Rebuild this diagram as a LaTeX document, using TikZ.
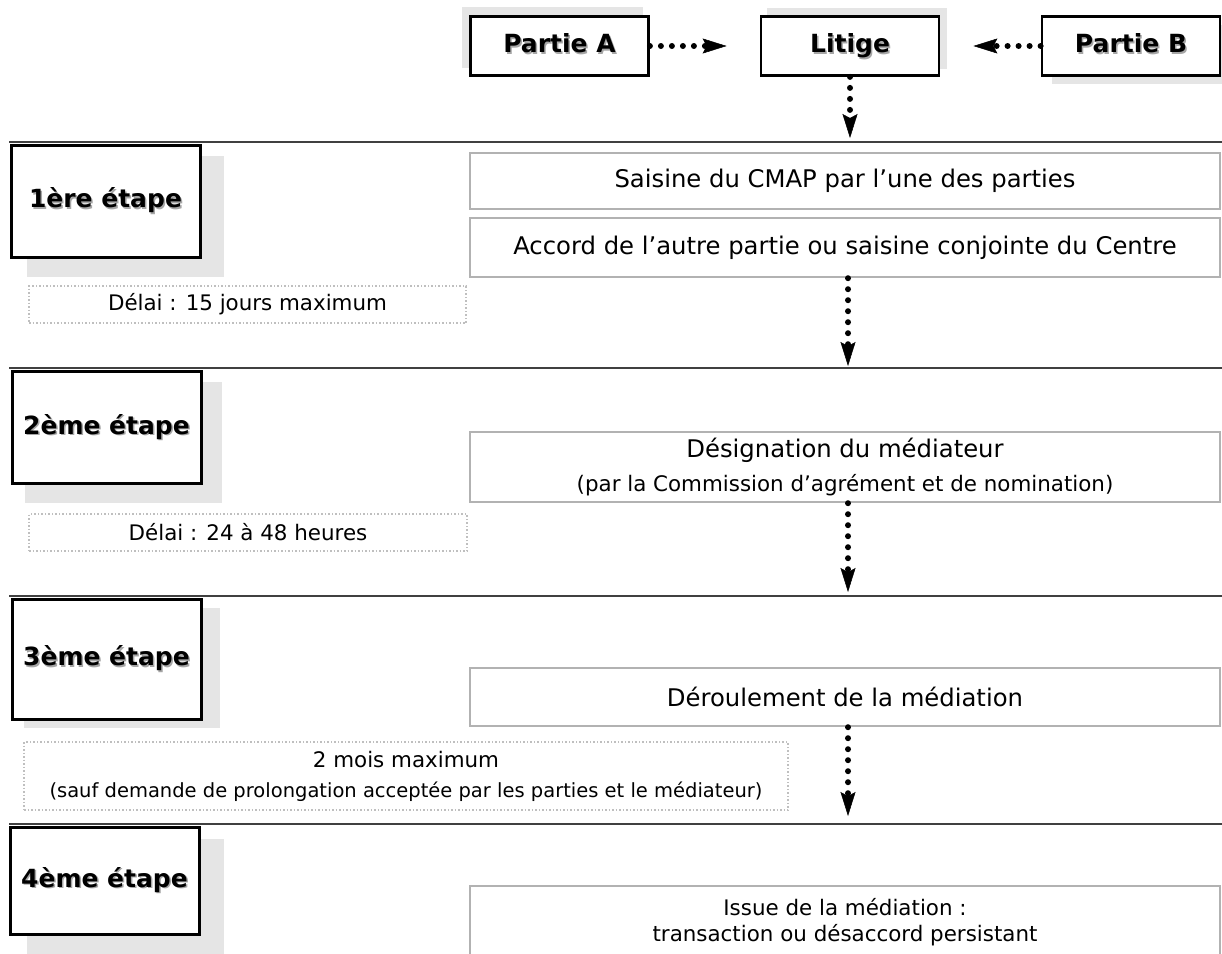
\documentclass[tikz,border=0pt]{standalone}
\usepackage{fontspec}
\setmainfont{DejaVu Sans}
\usetikzlibrary{arrows.meta}
\newcommand{\txtshade}[1]{\makebox[0pt][l]{\kern1.5pt\raisebox{-1.5pt}{\color{black!35}#1}}#1}

\begin{document}
\begin{tikzpicture}[x=1pt,y=-1pt,
  party/.style={draw,line width=2.8pt,fill=white,minimum width=178pt,minimum height=59pt,inner sep=0pt,text height=18pt,text depth=5pt,font=\bfseries\fontsize{25}{30}\selectfont},
  stage/.style={draw,line width=3pt,fill=white,minimum width=189pt,minimum height=112pt,inner sep=0pt,font=\bfseries\fontsize{25}{30}\selectfont},
  task/.style={draw=black!30,line width=2.4pt,fill=white,minimum width=750pt,inner sep=0pt,align=center,font=\fontsize{24.3}{33}\selectfont},
  delay/.style={draw=black!25,dotted,line width=1.5pt,inner sep=0pt,align=center,font=\fontsize{21.4}{30}\selectfont},
  backdrop/.style={fill=black!10},
  sepline/.style={line width=1.5pt,black!75},
  flow/.style={line width=6pt,line cap=round,dash pattern=on 0pt off 11pt,-{Stealth[length=24pt,width=15pt,inset=4pt,line width=0.5pt]}}]
\useasboundingbox (0,0) rectangle (1222,953);
\clip (0,0) rectangle (1222,953);
\fill[backdrop] (462,7) rectangle (643,68);
\fill[backdrop] (767,8) rectangle (947,69);
\fill[backdrop] (1052,25) rectangle (1232,84);
\fill[backdrop] (27,156) rectangle (224,277);
\fill[backdrop] (25,382) rectangle (222,503);
\fill[backdrop] (24,608) rectangle (220,728);
\fill[backdrop] (27,839) rectangle (224,960);
\node[party] (pa) at (559.5,46) {\txtshade{Partie A}};
\node[party] (lit) at (850,46) {\txtshade{Litige}};
\node[party] (pb) at (1131,46) {\txtshade{Partie B}};
\draw[sepline] (9,142) -- (1222,142);
\draw[sepline] (9,368) -- (1222,368);
\draw[sepline] (9,596) -- (1222,596);
\draw[sepline] (9,824) -- (1222,824);
\node[stage] (s1) at (105.5,201) {\txtshade{1ère étape}};
\node[stage] (s2) at (106.5,427.5) {\txtshade{2ème étape}};
\node[stage,minimum height=120pt] (s3) at (106.5,659) {\txtshade{3ème étape}};
\node[stage,minimum height=107pt] (s4) at (104.5,880.5) {\txtshade{4ème étape}};
\node[task,minimum height=56pt] (sai) at (845,181) {Saisine du CMAP par l’une des parties};
\node[task,minimum height=59pt] (acc) at (845,247.5) {Accord de l’autre partie ou saisine conjointe du Centre};
\node[task,minimum height=70pt] (des) at (845,467) {Désignation du médiateur\\{\fontsize{21.4}{33}\selectfont(par la Commission d’agrément et de nomination)}};
\node[task,minimum height=58pt] (der) at (845,697) {Déroulement de la médiation};
\node[task,minimum height=73pt,font=\fontsize{21.4}{26}\selectfont] (iss) at (845,922.5) {Issue de la médiation :\\transaction ou désaccord persistant};
\node[delay,minimum width=437pt,minimum height=37pt] (d1) at (247.5,304.5) {Délai : 15 jours maximum};
\node[delay,minimum width=438pt,minimum height=37pt] (d2) at (248,532.5) {Délai : 24 à 48 heures};
\node[delay,minimum width=764pt,minimum height=68pt] (d3) at (406,776) {2 mois maximum\\{\fontsize{19.5}{30}\selectfont(sauf demande de prolongation acceptée par les parties et le médiateur)}};
\coordinate (e1) at (850,138);
\coordinate (e2) at (848,366);
\coordinate (e3) at (848,592);
\coordinate (e4) at (848,816);
\draw[flow,shorten >=33pt] (pa) -- (lit);
\draw[flow,shorten >=33pt] (pb) -- (lit);
\draw[flow] (lit) -- (e1);
\draw[flow] (acc.south -| e2) -- (e2);
\draw[flow] (des.south -| e3) -- (e3);
\draw[flow] (der.south -| e4) -- (e4);
\end{tikzpicture}
\end{document}
